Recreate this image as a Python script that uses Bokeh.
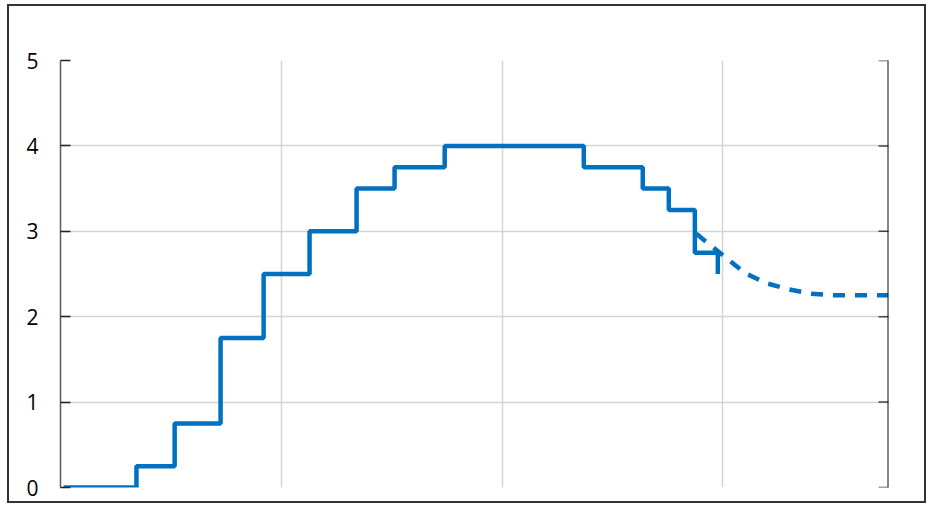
from bokeh.plotting import figure
from bokeh.models import LinearAxis, FixedTicker, Grid, Range1d, Span
from bokeh.embed import file_html
from bokeh.resources import INLINE

# step series: x positions of changes, and levels
step_x = [0.014, 0.344, 0.517, 0.725, 0.92, 1.128, 1.341, 1.513, 1.74, 2.37, 2.637, 2.755, 2.873, 2.977]
step_y = [0.0, 0.25, 0.75, 1.75, 2.5, 3.0, 3.5, 3.75, 4.0, 3.75, 3.5, 3.25, 2.75, 2.5]

# dashed projection
proj_x = [2.88, 3.0, 3.1, 3.2, 3.3, 3.4, 3.5, 3.75]
proj_y = [2.97, 2.72, 2.51, 2.39, 2.32, 2.27, 2.25, 2.25]

y_ticks = [0, 1, 2, 3, 4, 5]
x_grid = [1, 2, 3]
X_MAX = 3.75

BLUE = "#0070C0"

p = figure(output_backend="svg", toolbar_location=None,
           frame_width=828, frame_height=427,
           min_border_left=51, min_border_right=36, min_border_top=54, min_border_bottom=14,
           x_range=Range1d(0, X_MAX), y_range=Range1d(0, 5),
           x_axis_location=None, y_axis_location=None)
p.styles = {"margin-left": "7px", "margin-top": "4px", "border": "2px solid #333333"}
p.outline_line_color = None
p.background_fill_color = "white"
p.border_fill_color = "white"
p.center = []

hg = Grid(dimension=1, ticker=FixedTicker(ticks=y_ticks), grid_line_color="#d4d4d4", grid_line_width=1.5)
vg = Grid(dimension=0, ticker=FixedTicker(ticks=x_grid), grid_line_color="#d4d4d4", grid_line_width=1.5)
p.add_layout(hg, "center")
p.add_layout(vg, "center")

yl = LinearAxis(ticker=FixedTicker(ticks=y_ticks))
yl.major_tick_in = 10
yl.major_tick_out = 0
yl.minor_tick_line_color = None
yl.axis_line_color = "#595959"
yl.axis_line_width = 1.5
yl.major_tick_line_color = "#222222"
yl.major_tick_line_width = 1.5
yl.major_label_standoff = 22
yl.major_label_text_font = "Open Sans"
yl.major_label_text_font_size = "21px"
yl.major_label_text_color = "black"
p.add_layout(yl, "left")

# right-hand axis line with inward ticks
p.add_layout(Span(location=X_MAX, dimension="height", line_color="#111111", line_width=2))
p.scatter([X_MAX] * len(y_ticks), y_ticks, marker="dash", size=20,
          line_color="#444444", line_width=1.5)

p.step(step_x, step_y, mode="after", line_color=BLUE, line_width=4.5)
p.line(proj_x, proj_y, line_color=BLUE, line_width=4.5, line_dash="12 10")

open("out.html", "w").write(file_html(p, INLINE))
